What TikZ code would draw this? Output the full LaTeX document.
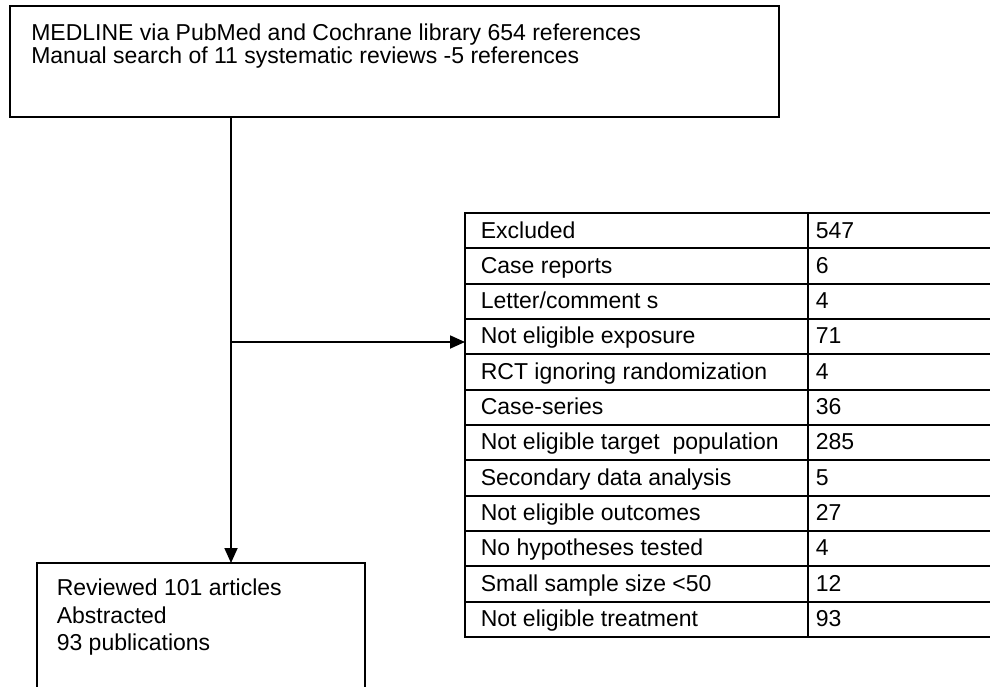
\documentclass[tikz,border=0pt]{standalone}
\usepackage{fontspec}
\setmainfont{Liberation Sans}
\usetikzlibrary{arrows.meta}
\begin{document}
\begin{tikzpicture}[x=1pt,y=-1pt,
  line width=1.6pt,
  txt/.style={inner sep=0pt,anchor=base west,font=\fontsize{23}{26}\selectfont},
  frame/.style={draw,line width=2pt,inner sep=0pt,anchor=north west},
  conn/.style={line width=1.8pt,-{Triangle[length=15pt,width=13pt]}},
  rule/.style={line width=2pt}]
\useasboundingbox[fill=white] (0,0) rectangle (990,686);
% top box
\node[frame,minimum width=769pt,minimum height=111pt] (top) at (9,5) {};
\node[txt] (t1) at (30.5,40) {MEDLINE via PubMed and Cochrane library 654 references};
\node[txt] (t2) at (30.5,63) {Manual search of 11 systematic reviews -5 references};
% bottom box (open at the lower page edge)
\node[draw=none,inner sep=0pt,anchor=north west,minimum width=326pt,minimum height=130pt] (bot) at (37,563) {};
\draw[rule] (bot.south west) -- (bot.north west) -- (bot.north east) -- (bot.south east);
\node[txt] (b1) at (56,595) {Reviewed 101 articles};
\node[txt] (b2) at (56,623) {Abstracted};
\node[txt] (b3) at (56,650) {93 publications};
% table
\node[draw=none,inner sep=0pt,anchor=north west,minimum width=530pt,minimum height=424pt] (tab) at (465,213) {};
\foreach \i in {0,...,12}{
  \draw[rule] (465-1,213+\i*35.33) -- (995,213+\i*35.33);
}
\draw[rule] (465,213) -- (465,637);
\draw[rule] (808,213) -- (808,637);
\foreach [count=\i from 0] \lab/\num in {Excluded/547,Case reports/6,{Letter/comment s}/4,Not eligible exposure/71,RCT ignoring randomization/4,Case-series/36,Not eligible target\ \ population/285,Secondary data analysis/5,Not eligible outcomes/27,No hypotheses tested/4,Small sample size <50/12,Not eligible treatment/93}{
  \node[txt] (l\i) at (480,238+\i*35.33) {\lab};
  \node[txt] (n\i) at (815,238+\i*35.33) {\num};
}
% connectors
\coordinate (j) at (231,342);
\draw[line width=1.8pt] (j |- top.south) -- (j);
\draw[conn] (j) -- (j |- bot.north);
\draw[conn] (j) -- (j -| tab.west);
\end{tikzpicture}
\end{document}
